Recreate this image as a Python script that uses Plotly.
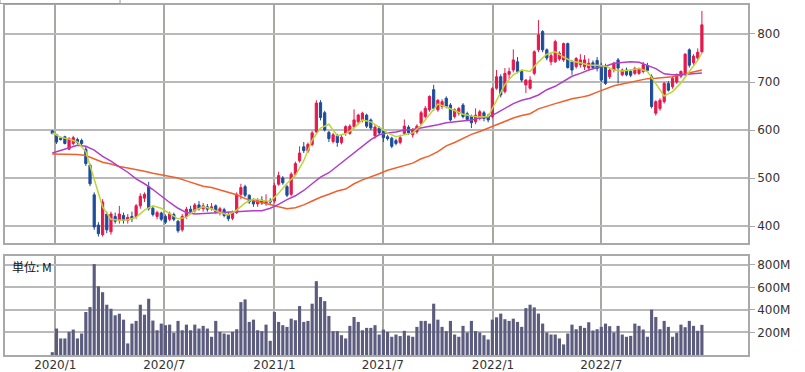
import pandas as pd
import plotly.graph_objects as go

# ---------------- data (weekly) ----------------
dates = pd.date_range("2019-12-27", periods=156, freq="7D")

opens = [598, 590, 583, 586, 560, 572, 580, 578, 560, 527,
         465, 402, 382, 425, 388, 420, 412, 422, 412, 420,
         420, 442, 458, 482, 437, 420, 427, 420, 414, 424,
         410, 392, 420, 435, 432, 444, 436, 440, 436, 442,
         430, 434, 424, 416, 428, 466, 482, 464, 452, 446,
         454, 448, 452, 452, 487, 500, 482, 466, 508, 536,
         565, 556, 570, 596, 657, 636, 595, 576, 588, 574,
         593, 593, 607, 617, 620, 631, 621, 588, 604, 598,
         586, 583, 578, 574, 593, 606, 590, 596, 614, 628,
         642, 684, 642, 649, 666, 652, 628, 635, 652, 634,
         628, 617, 624, 636, 629, 628, 687, 711, 680, 716,
         725, 742, 722, 694, 687, 718, 767, 805, 767, 742,
         742, 748, 746, 780, 742, 732, 736, 732, 729, 740,
         745, 735, 732, 711, 725, 746, 715, 725, 722, 718,
         718, 722, 734, 711, 635, 645, 659, 697, 690, 700,
         712, 716, 767, 740, 750, 763]
highs = [600, 592, 586, 588, 585, 588, 584, 582, 565, 530,
         470, 408, 456, 430, 430, 428, 442, 428, 425, 430,
         446, 468, 470, 492, 442, 432, 430, 424, 430, 428,
         412, 425, 440, 442, 448, 452, 448, 446, 448, 445,
         440, 438, 430, 432, 470, 488, 486, 466, 458, 458,
         462, 466, 458, 490, 513, 504, 486, 512, 534, 566,
         575, 574, 598, 662, 662, 640, 598, 594, 592, 590,
         610, 612, 643, 634, 638, 634, 624, 610, 608, 600,
         590, 586, 582, 590, 622, 610, 604, 612, 640, 650,
         672, 694, 664, 664, 670, 656, 645, 648, 656, 638,
         632, 645, 642, 640, 634, 690, 725, 716, 729, 730,
         768, 752, 726, 706, 712, 766, 829, 808, 770, 760,
         788, 764, 782, 782, 746, 752, 758, 756, 749, 745,
         752, 740, 738, 728, 742, 750, 728, 730, 726, 732,
         730, 742, 740, 716, 662, 666, 700, 702, 712, 718,
         724, 760, 770, 758, 770, 848]
lows = [591, 571, 578, 570, 558, 568, 570, 568, 525, 483,
        392, 378, 378, 385, 382, 405, 405, 405, 405, 408,
        415, 436, 450, 432, 420, 414, 410, 404, 410, 410,
        386, 388, 415, 425, 428, 432, 430, 430, 432, 426,
        422, 418, 410, 412, 425, 456, 460, 446, 440, 440,
        444, 442, 444, 448, 484, 486, 460, 462, 504, 532,
        552, 552, 566, 592, 620, 597, 575, 572, 565, 570,
        588, 590, 604, 612, 616, 604, 600, 582, 590, 575,
        578, 562, 568, 570, 590, 590, 584, 592, 610, 624,
        638, 640, 638, 644, 645, 618, 624, 630, 624, 618,
        604, 612, 620, 618, 616, 624, 684, 668, 676, 706,
        720, 718, 700, 677, 684, 714, 762, 762, 745, 735,
        740, 744, 742, 728, 715, 728, 730, 725, 724, 726,
        722, 700, 694, 706, 720, 697, 712, 712, 710, 715,
        715, 718, 722, 645, 630, 640, 655, 680, 686, 696,
        708, 712, 730, 736, 746, 760]
closes = [593, 575, 580, 572, 582, 584, 574, 572, 530, 488,
          398, 384, 450, 392, 425, 410, 425, 412, 418, 415,
          442, 462, 466, 436, 424, 428, 414, 408, 426, 414,
          390, 420, 435, 430, 444, 436, 442, 435, 440, 430,
          436, 422, 415, 428, 466, 480, 464, 450, 446, 454,
          448, 452, 450, 484, 505, 490, 464, 508, 530, 552,
          557, 570, 594, 656, 626, 600, 582, 590, 574, 585,
          607, 608, 621, 631, 635, 608, 604, 606, 594, 584,
          582, 566, 572, 584, 608, 594, 600, 608, 636, 645,
          670, 645, 662, 659, 649, 621, 642, 645, 628, 622,
          615, 631, 638, 624, 621, 686, 711, 673, 718, 722,
          746, 722, 704, 704, 704, 763, 798, 767, 750, 755,
          784, 760, 780, 730, 725, 749, 746, 746, 739, 730,
          728, 704, 697, 725, 739, 729, 725, 715, 714, 728,
          728, 736, 724, 649, 659, 662, 697, 683, 708, 714,
          722, 758, 735, 754, 762, 819]
volumes = [25, 235, 147, 147, 206, 226, 147, 191, 382, 426,
           808, 611, 558, 447, 411, 353, 367, 314, 103, 279,
           303, 447, 358, 500, 306, 220, 279, 265, 270, 197,
           303, 220, 270, 220, 270, 235, 259, 235, 162, 303,
           206, 191, 182, 206, 229, 470, 494, 294, 314, 220,
           212, 270, 126, 382, 294, 265, 250, 323, 309, 435,
           294, 303, 456, 656, 515, 479, 347, 212, 212, 176,
           147, 259, 338, 294, 220, 241, 241, 265, 182, 226,
           206, 162, 182, 168, 215, 173, 162, 250, 303, 303,
           279, 456, 314, 250, 212, 303, 182, 162, 259, 200,
           303, 212, 200, 176, 138, 314, 335, 368, 318, 303,
           323, 294, 250, 417, 447, 423, 368, 279, 200, 182,
           182, 147, 94, 191, 270, 229, 259, 241, 291, 218,
           229, 250, 279, 256, 200, 259, 182, 162, 170, 279,
           259, 226, 162, 403, 338, 229, 303, 250, 162, 197,
           270, 247, 303, 259, 215, 268]

# moving averages read every second week (plus the last week)
ma_dates = list(dates[::2]) + [dates[-1]]
ma_short = [594, 585, 581, 575, 555, 495, 440, 414, 412, 413,
            418, 433, 442, 437, 426, 415, 418, 433, 440, 436,
            428, 423, 433, 448, 456, 453, 451, 468, 489, 505,
            536, 579, 604, 612, 588, 592, 604, 621, 617, 606,
            594, 586, 590, 594, 610, 632, 654, 648, 640, 633,
            629, 627, 628, 660, 695, 715, 725, 722, 742, 758,
            763, 752, 743, 740, 735, 735, 733, 725, 723, 725,
            728, 722, 696, 671, 680, 698, 722, 745, 760]
ma_mid = [552, 557, 563, 568, 566, 558, 545, 535, 523, 512,
          498, 488, 476, 462, 449, 437, 428, 425, 426, 427,
          429, 429, 430, 431, 432, 432, 437, 445, 455, 463,
          474, 488, 502, 511, 525, 538, 552, 568, 580, 590,
          594, 596, 600, 601, 604, 607, 611, 615, 617, 618,
          621, 625, 627, 635, 645, 655, 662, 666, 673, 684,
          691, 701, 712, 718, 725, 730, 733, 739, 740, 742,
          741, 735, 728, 717, 715, 715, 716, 718, 719]
ma_long = [550, 550, 550, 549, 547, 540, 533, 529, 524, 521,
           518, 514, 510, 507, 503, 500, 494, 489, 483, 480,
           475, 471, 465, 457, 453, 450, 445, 440, 436, 438,
           444, 452, 460, 466, 473, 477, 488, 496, 502, 509,
           516, 521, 526, 531, 540, 546, 555, 567, 574, 583,
           591, 597, 604, 610, 618, 625, 630, 634, 644, 650,
           655, 660, 665, 668, 672, 679, 686, 692, 696, 700,
           703, 707, 708, 710, 711, 715, 719, 722, 725]

tick_dates = ["2020-01-01", "2020-07-01", "2021-01-01",
              "2021-07-01", "2022-01-01", "2022-07-01"]
tick_labels = ["2020/1", "2020/7", "2021/1", "2021/7", "2022/1", "2022/7"]
price_ticks = [400, 500, 600, 700, 800]
vol_ticks = [200, 400, 600, 800]
vol_labels = ["200M", "400M", "600M", "800M"]

# ---------------- styling ----------------
RED = "#e5194c"
BLUE = "#1d4c9a"
GRID = "#b9b9b9"
FRAME = "#a9a9a9"
FONT = dict(family="DejaVu Sans", size=12, color="#333333")

fig = go.Figure()

fig.add_trace(go.Candlestick(
    x=dates, open=opens, high=highs, low=lows, close=closes,
    increasing=dict(line=dict(color=RED, width=1), fillcolor=RED),
    decreasing=dict(line=dict(color=BLUE, width=1), fillcolor=BLUE),
    whiskerwidth=0, showlegend=False, xaxis="x", yaxis="y"))

fig.add_trace(go.Scatter(x=ma_dates, y=ma_long, mode="lines",
                         line=dict(color="#f0602c", width=1.5),
                         showlegend=False, xaxis="x", yaxis="y"))
fig.add_trace(go.Scatter(x=ma_dates, y=ma_mid, mode="lines",
                         line=dict(color="#b23ec6", width=1.5),
                         showlegend=False, xaxis="x", yaxis="y"))
fig.add_trace(go.Scatter(x=ma_dates, y=ma_short, mode="lines",
                         line=dict(color="#bcd63a", width=1.5),
                         showlegend=False, xaxis="x", yaxis="y"))

fig.add_trace(go.Bar(x=dates, y=volumes, marker=dict(color="#5c5c7e", line=dict(width=0)),
                     showlegend=False, xaxis="x2", yaxis="y2"))

xrange = ["2019-10-09", "2023-03-03"]
xcommon = dict(range=xrange, type="date", tickvals=tick_dates, ticktext=tick_labels,
               showgrid=True, gridcolor="#a8a8a2", gridwidth=1.5,
               showline=True, linecolor=FRAME, linewidth=1.5, mirror=True,
               zeroline=False, ticks="", tickfont=FONT, fixedrange=True,
               automargin=False)

fig.update_layout(
    width=805, height=372,
    margin=dict(l=5, r=57, t=5, b=17, autoexpand=False),
    paper_bgcolor="white", plot_bgcolor="white",
    bargap=0.25, boxgap=0.25,
    xaxis=dict(xcommon, domain=[0, 1], anchor="y", showticklabels=False,
               rangeslider=dict(visible=False)),
    xaxis2=dict(xcommon, domain=[0, 1], anchor="y2", matches="x",
                showticklabels=True, ticklabelstandoff=-2),
    yaxis=dict(domain=[0.32, 1], range=[364.6, 860.4], side="right",
               tickvals=price_ticks, showgrid=True, gridcolor=GRID, gridwidth=2,
               showline=True, linecolor=FRAME, linewidth=1.5, mirror=True,
               ticks="outside", ticklen=5, tickcolor=FRAME, tickfont=FONT,
               zeroline=False, fixedrange=True, automargin=False),
    yaxis2=dict(domain=[0, 0.2829], range=[0, 880], side="right",
                tickvals=vol_ticks, ticktext=vol_labels, showgrid=True,
                gridcolor=GRID, gridwidth=2,
                showline=True, linecolor=FRAME, linewidth=1.5, mirror=True,
                ticks="outside", ticklen=5, tickcolor=FRAME, tickfont=FONT,
                zeroline=False, fixedrange=True, automargin=False),
    annotations=[dict(text="単位: M", xref="paper", yref="paper",
                      x=0.007, y=0.252, xanchor="left", yanchor="middle",
                      showarrow=False,
                      font=dict(family="Noto Sans CJK JP", size=12, color="#111111"))],
    shapes=[dict(type="rect", xref="paper", yref="paper",
                 x0=-0.0067, x1=0.1548, y0=1.0043, y1=1.05,
                 line=dict(color="#999999", width=1), fillcolor="white",
                 layer="above")],
)

fig.write_html("out.html", config={"displayModeBar": False},
               post_script="document.body.style.margin='0';document.body.style.overflow='hidden';")
